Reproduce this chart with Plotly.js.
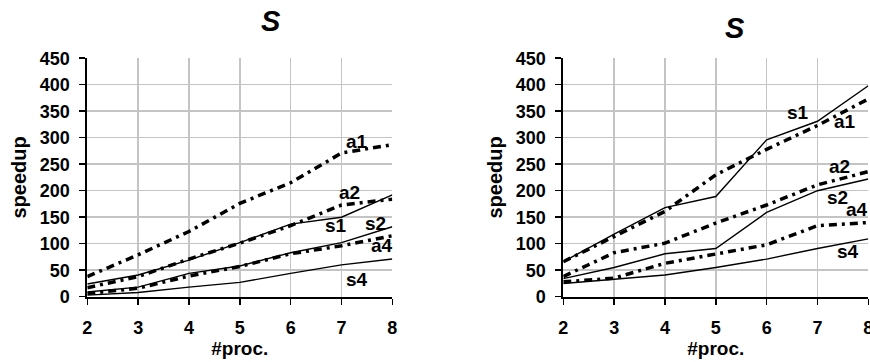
<!DOCTYPE html>
<html>
<head>
<meta charset="utf-8">
<script src="https://cdn.plot.ly/plotly-3.0.1.min.js"></script>
<style>html,body{margin:0;padding:0;background:#fff;}#chart{width:870px;height:362px;}</style>
</head>
<body>
<div id="chart"></div>
<script>
const procs = [2, 3, 4, 5, 6, 7, 8];
const xTickLabels = ["2", "3", "4", "5", "6", "7", "8"];
const chartTitles = ["S", "S"];

// left chart
const leftA1 = [38, 79, 123, 176, 215, 271, 287];
const leftS1 = [24, 41, 69, 102, 137, 150, 192];
const leftA2 = [17, 38, 71, 101, 134, 173, 184];
const leftS2 = [9, 18, 44, 58, 83, 102, 132];
const leftA4 = [6, 16, 39, 57, 81, 96, 115];
const leftS4 = [3, 8, 18, 27, 44, 60, 71];

// right chart
const rightS1 = [66, 118, 168, 189, 296, 331, 398];
const rightA1 = [66, 113, 161, 230, 278, 323, 373];
const rightA2 = [38, 83, 101, 139, 173, 211, 236];
const rightS2 = [34, 55, 81, 91, 159, 200, 222];
const rightA4 = [28, 35, 63, 81, 98, 134, 140];
const rightS4 = [25, 33, 41, 55, 71, 91, 109];

const seriesNames = ["a1", "s1", "a2", "s2", "a4", "s4"];
const leftSeries = [leftA1, leftS1, leftA2, leftS2, leftA4, leftS4];
const rightSeries = [rightA1, rightS1, rightA2, rightS2, rightA4, rightS4];

// label anchor positions (data coords) for curve labels
const leftLabelX = [7.31, 6.89, 7.15, 7.66, 7.80, 7.31];
const leftLabelY = [292, 135, 196, 139, 96, 33];
const rightLabelX = [7.54, 6.62, 7.44, 7.40, 7.78, 7.60];
const rightLabelY = [330, 347, 245, 188, 164, 86];

const FONT = "Liberation Sans, Arial, sans-serif";
const DASH = "8px,5px,3px,5px";

function traces(series, xa, ya) {
  return series.map((vals, i) => {
    const isA = seriesNames[i].startsWith("a");
    return {
      x: procs, y: vals, xaxis: xa, yaxis: ya, type: "scatter", mode: "lines",
      name: seriesNames[i], showlegend: false, hoverinfo: "skip",
      line: isA ? {color: "#000", width: 3.5, dash: DASH} : {color: "#000", width: 1.4}
    };
  });
}

const data = [].concat(traces(leftSeries, "x", "y"), traces(rightSeries, "x2", "y2"));

function xAxis(domain, anchor) {
  return {
    domain: domain, anchor: anchor, range: [2, 8], autorange: false,
    tickvals: procs, ticktext: xTickLabels,
    ticks: "outside", ticklen: 6, tickcolor: "#000", tickwidth: 1.5,
    ticklabelstandoff: 8, ticklabeloverflow: "allow",
    showgrid: true, gridcolor: "#c4c4c4", gridwidth: 1.5,
    showline: true, linecolor: "#000", linewidth: 2,
    zeroline: false,
    tickfont: {family: FONT, size: 18, color: "#000", weight: "bold"},
    title: {text: "#proc.", font: {family: FONT, size: 19, color: "#000", weight: "bold"}, standoff: 1}
  };
}
function yAxis(domain, anchor) {
  return {
    domain: domain, anchor: anchor, range: [0, 450], autorange: false,
    dtick: 50, tick0: 0,
    ticks: "outside", ticklen: 6, tickcolor: "#000", tickwidth: 1.5,
    ticklabelstandoff: 6, ticklabeloverflow: "allow",
    showgrid: true, gridcolor: "#c4c4c4", gridwidth: 1.5,
    showline: true, linecolor: "#000", linewidth: 2,
    zeroline: false,
    tickfont: {family: FONT, size: 18, color: "#000", weight: "bold"},
    title: {text: "speedup", font: {family: FONT, size: 20, color: "#000", weight: "bold"}, standoff: 8}
  };
}

const annotations = [];
seriesNames.forEach((n, i) => {
  annotations.push({x: leftLabelX[i], y: leftLabelY[i], xref: "x", yref: "y", text: n, showarrow: false,
    font: {family: FONT, size: 19, color: "#000", weight: "bold"}});
  annotations.push({x: rightLabelX[i], y: rightLabelY[i], xref: "x2", yref: "y2", text: n, showarrow: false,
    font: {family: FONT, size: 19, color: "#000", weight: "bold"}});
});
annotations.push({x: 271/870, y: 1 - 21/362, xref: "paper", yref: "paper", text: chartTitles[0], showarrow: false,
  xanchor: "center", yanchor: "middle",
  font: {family: FONT, size: 29, color: "#000", weight: "bold", style: "italic"}});
annotations.push({x: 735/870, y: 1 - 28/362, xref: "paper", yref: "paper", text: chartTitles[1], showarrow: false,
  xanchor: "center", yanchor: "middle",
  font: {family: FONT, size: 29, color: "#000", weight: "bold", style: "italic"}});

const yDom = [(362 - 296.7) / 362, (362 - 58.2) / 362];
const layout = {
  width: 870, height: 362,
  margin: {l: 0, r: 0, t: 0, b: 0},
  paper_bgcolor: "#fff", plot_bgcolor: "#fff",
  showlegend: false,
  xaxis: xAxis([87.3 / 870, 392.3 / 870], "y"),
  yaxis: yAxis(yDom, "x"),
  xaxis2: xAxis([563.3 / 870, 868.3 / 870], "y2"),
  yaxis2: yAxis(yDom, "x2"),
  annotations: annotations
};

Plotly.newPlot("chart", data, layout, {staticPlot: true, displayModeBar: false});
</script>
</body>
</html>
